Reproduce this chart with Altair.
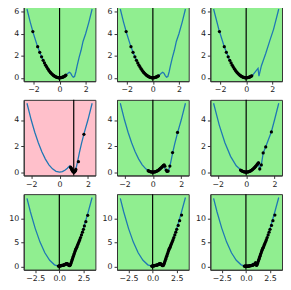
import altair as alt
import pandas as pd

# ---- curves ----
TOP_CURVE_X = [-2.5, -2.25, -2.0, -1.75, -1.5, -1.25, -1.0, -0.75, -0.5, -0.25, 0.0, 0.2, 0.4, 0.55, 0.65, 0.75, 0.85, 0.95, 1.05, 1.15, 1.25, 1.35, 1.5, 1.65, 1.8, 2.0, 2.25, 2.5]
TOP_CURVE_Y = [6.25, 5.06, 4.0, 3.06, 2.25, 1.56, 1.0, 0.56, 0.25, 0.06, 0.0, 0.04, 0.16, 0.3, 0.42, 0.5, 0.42, 0.2, 0.06, 0.12, 0.55, 1.1, 1.85, 2.5, 3.3, 4.0, 5.06, 6.25]

TOP3_CURVE_X = [-2.5, -2.1, -1.7, -1.3, -0.9, -0.5, -0.1, 0.3, 0.5, 0.91, 0.98, 1.17, 1.5, 1.82, 2.1, 2.5]
TOP3_CURVE_Y = [6.25, 4.41, 2.89, 1.69, 0.81, 0.25, 0.01, 0.09, 0.25, 0.85, 0.15, 1.1, 2.2, 3.4, 4.4, 6.25]

MID_CURVE_X = [-2.3, -2.0, -1.75, -1.5, -1.25, -1.0, -0.75, -0.5, -0.25, 0.0, 0.2, 0.4, 0.55, 0.65, 0.72, 0.8, 0.9, 1.0, 1.1, 1.2, 1.3, 1.4, 1.55, 1.75, 2.0, 2.3]
MID_CURVE_Y = [5.29, 4.0, 3.06, 2.25, 1.56, 1.0, 0.56, 0.25, 0.06, 0.0, 0.04, 0.16, 0.3, 0.42, 0.48, 0.4, 0.15, 0.02, 0.1, 0.45, 0.95, 1.5, 2.2, 3.05, 4.0, 5.29]

MID3_CURVE_X = [-2.3, -1.9, -1.5, -1.1, -0.7, -0.3, 0.1, 0.5, 0.85, 0.96, 1.07, 1.2, 1.38, 1.78, 2.0, 2.3]
MID3_CURVE_Y = [5.29, 3.61, 2.25, 1.21, 0.49, 0.09, 0.01, 0.25, 0.75, 0.2, 0.55, 1.45, 1.95, 3.1, 4.0, 5.29]

BOT_CURVE_X = [-3.35, -3.0, -2.5, -2.0, -1.5, -1.0, -0.5, 0.0, 0.3, 0.5, 0.72, 0.9, 1.04, 1.2, 1.4, 1.6, 1.8, 2.0, 2.5, 3.0, 3.4]
BOT_CURVE_Y = [14.3, 11.5, 8.0, 5.1, 2.85, 1.27, 0.32, 0.0, 0.12, 0.3, 0.6, 0.45, 0.2, 0.65, 1.7, 2.9, 4.0, 5.1, 8.0, 11.5, 14.5]

# ---- iterates (black dots) ----
P1_X = [-2.05, -1.68, -1.52, -1.38, -1.26, -1.16, -1.07, -0.99, -0.91, -0.84, -0.77, -0.70, -0.64, -0.58, -0.52, -0.46, -0.41, -0.36, -0.31, -0.26, -0.21, -0.16, -0.11, -0.06, -0.02, 0.03, 0.08, 0.13, 0.18, 0.23, 0.28, 0.33, 0.38, 0.43, 0.48]
P1_Y = [4.2, 2.82, 2.31, 1.9, 1.59, 1.35, 1.14, 0.98, 0.83, 0.71, 0.59, 0.49, 0.41, 0.34, 0.27, 0.21, 0.17, 0.13, 0.10, 0.07, 0.04, 0.03, 0.01, 0.0, 0.0, 0.0, 0.01, 0.02, 0.03, 0.05, 0.08, 0.11, 0.14, 0.18, 0.23]

P2_X = [-2.05, -1.68, -1.52, -1.38, -1.26, -1.16, -1.07, -0.99, -0.91, -0.84, -0.77, -0.70, -0.64, -0.58, -0.52, -0.46, -0.41, -0.36, -0.31, -0.26, -0.21, -0.16, -0.11, -0.06, -0.02, 0.03, 0.08, 0.13, 0.18, 0.23, 0.28, 0.33, 0.38, 0.43]
P2_Y = [4.2, 2.82, 2.31, 1.9, 1.59, 1.35, 1.14, 0.98, 0.83, 0.71, 0.59, 0.49, 0.41, 0.34, 0.27, 0.21, 0.17, 0.13, 0.10, 0.07, 0.04, 0.03, 0.01, 0.0, 0.0, 0.0, 0.01, 0.02, 0.03, 0.05, 0.08, 0.11, 0.14, 0.18]

P3_X = [-2.05, -1.68, -1.52, -1.38, -1.26, -1.16, -1.07, -0.99, -0.91, -0.84, -0.77, -0.70, -0.64, -0.58, -0.52, -0.46, -0.41, -0.36, -0.31, -0.26, -0.21, -0.16, -0.11, -0.06, -0.02, 0.03, 0.08, 0.13, 0.18, 0.23, 0.28, 0.33, 0.38, 0.43]
P3_Y = [4.2, 2.82, 2.31, 1.9, 1.59, 1.35, 1.14, 0.98, 0.83, 0.71, 0.59, 0.49, 0.41, 0.34, 0.27, 0.21, 0.17, 0.13, 0.10, 0.07, 0.04, 0.03, 0.01, 0.0, 0.0, 0.0, 0.01, 0.02, 0.03, 0.05, 0.08, 0.11, 0.14, 0.18]

P4_X = [1.72, 1.33, 0.78, 0.82, 0.86, 0.89, 0.92, 0.95, 0.98, 1.0, 1.03, 1.06, 1.09, 1.12, 1.15]
P4_Y = [2.9, 0.8, 0.38, 0.3, 0.22, 0.15, 0.09, 0.04, 0.01, 0.0, 0.0, 0.02, 0.06, 0.12, 0.2]

P5_X = [1.74, 1.39, 1.2, 1.08, 1.0, 0.95, 0.85, 0.8, 0.75, 0.7, 0.65, 0.6, 0.55, 0.5, 0.45, 0.4, 0.35, 0.3, 0.25, 0.2, 0.15, 0.1, 0.05, 0.0, -0.05, -0.1, -0.15, -0.2, -0.25, -0.3, -0.33]
P5_Y = [3.05, 1.5, 0.46, 0.08, 0.05, 0.15, 0.45, 0.55, 0.52, 0.45, 0.4, 0.35, 0.3, 0.24, 0.2, 0.15, 0.12, 0.09, 0.06, 0.04, 0.02, 0.01, 0.0, 0.0, 0.0, 0.01, 0.02, 0.04, 0.06, 0.09, 0.11]

P6_X = [1.78, 1.38, 1.2, 1.07, 0.96, 0.88, 0.84, 0.8, 0.75, 0.7, 0.65, 0.6, 0.55, 0.5, 0.45, 0.4, 0.35, 0.3, 0.25, 0.2, 0.15, 0.1, 0.05, 0.0, -0.05, -0.1, -0.15, -0.2, -0.25, -0.3, -0.35, -0.4]
P6_Y = [3.09, 1.93, 1.47, 0.55, 0.24, 0.7, 0.68, 0.62, 0.55, 0.48, 0.42, 0.36, 0.3, 0.25, 0.2, 0.16, 0.12, 0.09, 0.06, 0.04, 0.02, 0.01, 0.0, 0.0, 0.0, 0.01, 0.02, 0.04, 0.06, 0.09, 0.12, 0.16]

P7_X = [2.94, 2.75, 2.6, 2.5, 2.4, 2.3, 2.2, 2.12, 2.05, 1.98, 1.92, 1.86, 1.8, 1.75, 1.7, 1.65, 1.6, 1.55, 1.5, 1.45, 1.4, 1.35, 1.3, 1.25, 1.2, 1.15, 1.1, 1.05, 1.0, 0.95, 0.9, 0.85, 0.8, 0.75, 0.7, 0.65, 0.6, 0.55, 0.5, 0.45, 0.4, 0.35, 0.3, 0.25, 0.2, 0.15, 0.1, 0.05, 0.0, -0.05, -0.1]
P7_Y = [10.75, 9.4, 8.5, 7.8, 7.2, 6.6, 6.05, 5.6, 5.25, 4.9, 4.6, 4.3, 4.0, 3.8, 3.55, 3.3, 3.0, 2.7, 2.4, 2.1, 1.8, 1.5, 1.2, 0.9, 0.6, 0.35, 0.2, 0.15, 0.2, 0.3, 0.4, 0.5, 0.55, 0.55, 0.5, 0.45, 0.4, 0.35, 0.3, 0.27, 0.25, 0.22, 0.2, 0.18, 0.15, 0.12, 0.1, 0.08, 0.06, 0.05, 0.05]

P8_X = [3.0, 2.8, 2.65, 2.5, 2.4, 2.3, 2.2, 2.12, 2.05, 1.98, 1.92, 1.86, 1.8, 1.75, 1.7, 1.65, 1.6, 1.55, 1.5, 1.45, 1.4, 1.35, 1.3, 1.25, 1.2, 1.15, 1.1, 1.05, 1.0, 0.95, 0.9, 0.85, 0.8, 0.75, 0.7, 0.65, 0.6, 0.55, 0.5, 0.45, 0.4, 0.35, 0.3, 0.25, 0.2, 0.15, 0.1, 0.05, 0.0, -0.05, -0.1]
P8_Y = [10.8, 9.6, 8.6, 7.8, 7.2, 6.6, 6.05, 5.6, 5.25, 4.9, 4.6, 4.3, 4.0, 3.8, 3.55, 3.3, 3.0, 2.7, 2.4, 2.1, 1.8, 1.5, 1.2, 0.9, 0.6, 0.35, 0.2, 0.15, 0.2, 0.3, 0.4, 0.5, 0.55, 0.55, 0.5, 0.45, 0.4, 0.35, 0.3, 0.27, 0.25, 0.22, 0.2, 0.18, 0.15, 0.12, 0.1, 0.08, 0.06, 0.05, 0.05]

P9_X = [3.0, 2.8, 2.65, 2.5, 2.4, 2.3, 2.2, 2.12, 2.05, 1.98, 1.92, 1.86, 1.8, 1.75, 1.7, 1.65, 1.6, 1.55, 1.5, 1.45, 1.4, 1.35, 1.3, 1.25, 1.2, 1.15, 1.1, 1.0, 0.95, 0.9, 0.85, 0.8, 0.75, 0.7, 0.65, 0.6, 0.55, 0.5, 0.45, 0.4, 0.35, 0.3, 0.25, 0.2, 0.15, 0.1, 0.05, 0.0, -0.05, -0.1, -0.15]
P9_Y = [10.8, 9.6, 8.6, 7.8, 7.2, 6.6, 6.05, 5.6, 5.25, 4.9, 4.6, 4.3, 4.0, 3.8, 3.55, 3.3, 3.0, 2.7, 2.4, 2.1, 1.8, 1.5, 1.2, 0.9, 0.6, 0.35, 0.2, 0.8, 0.55, 0.45, 0.4, 0.35, 0.3, 0.25, 0.22, 0.2, 0.17, 0.15, 0.13, 0.11, 0.09, 0.07, 0.05, 0.04, 0.03, 0.02, 0.02, 0.02, 0.02, 0.03, 0.04]

VLINES = [0.0, 0.0, 0.0, 1.0, 0.0, 0.0, 0.0, 0.0, 0.0]
BACKGROUNDS = ["#90EE90", "#90EE90", "#90EE90", "#FFC0CB", "#90EE90", "#90EE90", "#90EE90", "#90EE90", "#90EE90"]

X_DOMAINS = [[-2.75, 2.75], [-2.53, 2.53], [-3.69, 3.74]]
Y_DOMAINS = [[-0.31, 6.56], [-0.26, 5.55], [-0.72, 15.2]]
X_TICKS = [[-2, 0, 2], [-2, 0, 2], [-2.5, 0, 2.5]]
Y_TICKS = [[0, 2, 4, 6], [0, 2, 4], [0, 5, 10]]
X_FORMATS = ["d", "d", ".1f"]

CURVES = [(TOP_CURVE_X, TOP_CURVE_Y), (TOP_CURVE_X, TOP_CURVE_Y), (TOP3_CURVE_X, TOP3_CURVE_Y),
          (MID_CURVE_X, MID_CURVE_Y), (MID_CURVE_X, MID_CURVE_Y), (MID3_CURVE_X, MID3_CURVE_Y),
          (BOT_CURVE_X, BOT_CURVE_Y), (BOT_CURVE_X, BOT_CURVE_Y), (BOT_CURVE_X, BOT_CURVE_Y)]
DOTS = [(P1_X, P1_Y), (P2_X, P2_Y), (P3_X, P3_Y), (P4_X, P4_Y), (P5_X, P5_Y), (P6_X, P6_Y),
        (P7_X, P7_Y), (P8_X, P8_Y), (P9_X, P9_Y)]

W, H = 73, 77


def panel(i):
    row = i // 3
    cx, cy = CURVES[i]
    dx, dy = DOTS[i]
    curve_df = pd.DataFrame({"x": cx, "y": cy, "o": list(range(len(cx)))})
    dots_df = pd.DataFrame({"x": dx, "y": dy})
    vline_df = pd.DataFrame({"x": [VLINES[i]]})
    xs = alt.Scale(domain=X_DOMAINS[row], nice=False, zero=False)
    ys = alt.Scale(domain=Y_DOMAINS[row], nice=False, zero=False)
    common = dict(title=None, labelOverlap=False, labelFlush=False, labelBound=False,
                  labelFont="DejaVu Sans", labelFontSize=8, labelColor="#222222",
                  tickColor="#333333", tickSize=3, domainColor="#333333", labelPadding=2,
                  grid=False)
    xax = alt.Axis(values=X_TICKS[row], format=X_FORMATS[row], **common)
    yax = alt.Axis(values=Y_TICKS[row], format="d", **common)
    curve = alt.Chart(curve_df).mark_line(color="#1f77b4", strokeWidth=1.3, clip=True).encode(
        x=alt.X("x:Q", scale=xs, axis=xax),
        y=alt.Y("y:Q", scale=ys, axis=yax),
        order="o:Q",
    )
    vline = alt.Chart(vline_df).mark_rule(color="black", strokeWidth=1.2).encode(
        x=alt.X("x:Q", scale=xs, axis=xax)
    )
    dots = alt.Chart(dots_df).mark_circle(color="black", size=11, opacity=1).encode(
        x=alt.X("x:Q", scale=xs, axis=xax),
        y=alt.Y("y:Q", scale=ys, axis=yax),
    )
    return alt.layer(curve, vline, dots).properties(
        width=W, height=H,
        view=alt.ViewBackground(fill=BACKGROUNDS[i], stroke="#333333", strokeWidth=1),
    )


chart = alt.concat(
    *[panel(i) for i in range(9)],
    columns=3,
    spacing=alt.RowColnumber(row=19, column=22),
    bounds="flush",
).properties(
    padding={"left": 0, "top": -7, "right": 0, "bottom": 0}
).configure_axis(
    grid=False,
    labelOverlap=False,
    labelFlush=False,
).configure_view(stroke="#333333")

chart.save("out.html", embed_options={"renderer": "svg", "actions": False})
